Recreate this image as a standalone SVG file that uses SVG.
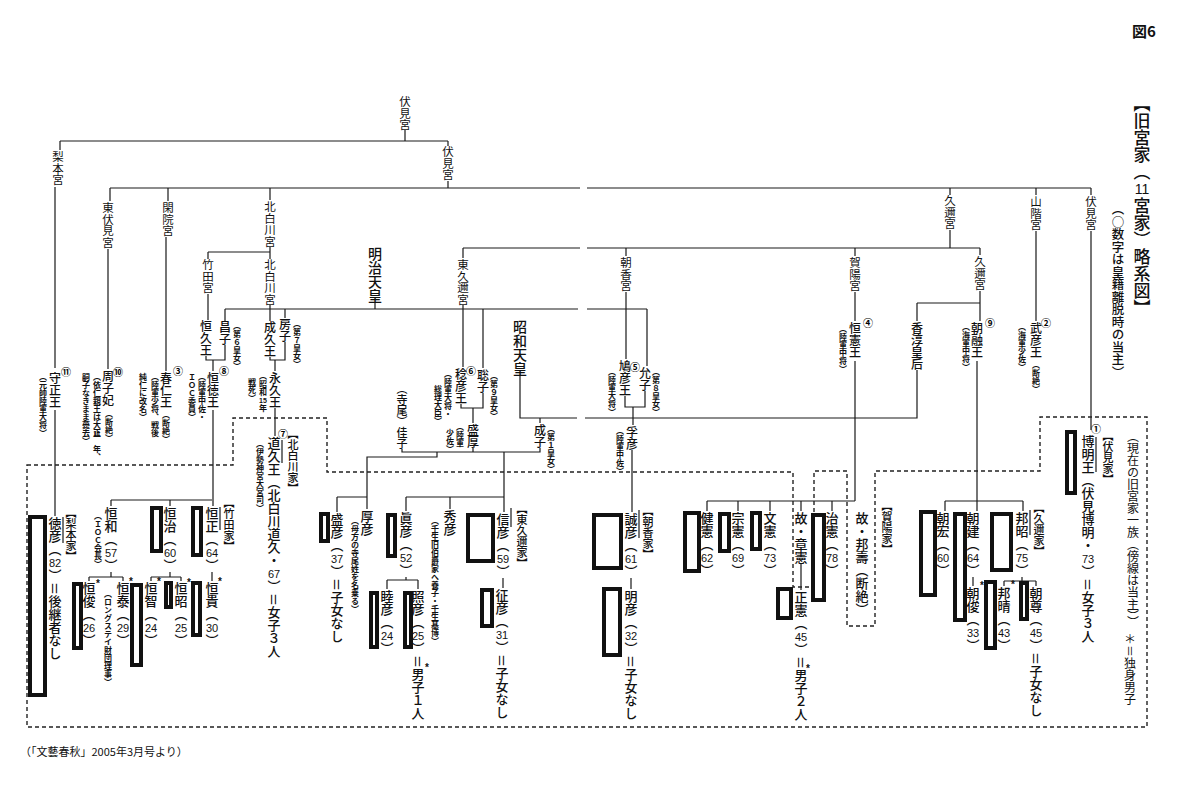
<svg xmlns="http://www.w3.org/2000/svg" width="1200" height="786" viewBox="0 0 1200 786">
<style>
text { font-family: "Noto Sans CJK JP", "Noto Sans CJK SC", sans-serif; fill:#111; }
.v { writing-mode: vertical-rl; }
.n { font-size:13px; font-weight:500; }
.o { font-size:12px; font-weight:500; }
.g { font-size:11.5px; }
.f { font-size:11px; font-weight:500; }
.e { font-size:14px; font-weight:500; }
.s { font-size:8px; font-weight:700; }
.num { font-family:"Liberation Sans", Arial, sans-serif; font-size:11px; text-anchor:middle; dominant-baseline:central; }
.sn { font-family:"Liberation Sans", Arial, sans-serif; font-size:7px; font-weight:700; text-anchor:middle; dominant-baseline:central; }
.c { font-family:"Noto Sans CJK JP", sans-serif; font-size:10px; font-weight:700; fill:#000; text-anchor:middle; dominant-baseline:central; }
.ast { font-family:"Liberation Sans", Arial, sans-serif; font-size:10px; font-weight:700; text-anchor:middle; dominant-baseline:central; }
.ln { fill:none; stroke:#1a1a1a; stroke-width:1.2; }
.bx { fill:none; stroke:#111; stroke-width:4; }
.sd { fill:none; stroke:#1a1a1a; stroke-width:1.2; }
.dash { fill:none; stroke:#222; stroke-width:1.4; stroke-dasharray:4 3; }
</style>
<rect width="1200" height="786" fill="#fff"/>

<g id="connectors">
<path class="ln" d="M405,130 V141 M60,141 H448 M60,141 V150 M55,187 V368 M448,141 V146 M448,181 V188
M110,188 H580 M587,188 H1091 M110,188 V201 M168,188 V201 M270,188 V200 M950,188 V195 M1036,188 V195 M1091,188 V195
M108,249 V369 M166,237 V371 M270,247 V252 M208,252 H270 M208,252 V259 M270,252 V259 M208,294 V320 M270,305 V321
M375,303 V309 M225,309 H578 M587,309 H647 M225,309 V321 M285,309 V318 M463,305 V367 M483,309 V368 M626,292 V359 M647,309 V366
M463,248 H580 M587,248 H980 M463,248 V258 M626,248 V256 M855,248 V256 M980,248 V255 M950,230 V248
M855,292 V321 M980,291 V321 M917,303 H980 M917,303 V321 M1036,231 V321 M1091,231 V430
M206,356 V360 H225 V345 M213,360 V371 M213,410 V506
M270,357 V360 H285 V342 M275,360 V371 M275,408 V436
M55,410 V516
M111,500 H212 M111,500 V506 M170,500 V506
M111,572 V577 M89,577 H123 M89,577 V581 M123,577 V581
M170,572 V577 M151,577 H181 M151,577 V581 M181,577 V581
M212,572 V581
M461,404 V408 H483 V393 M473,408 V423 M473,448 V452
M402,449 V452 H540 V448 M437,452 V457 H367 V497 M337,497 H367 M337,497 V512 M367,497 V509
M504,452 V512 M406,497 H504 M406,497 V511 M450,497 V509
M406,577 V580 M387,580 H418 M387,580 V589 M418,580 V589 M503,578 V588
M520,376 V418 H577 M585,418 H917 V370 M540,418 V423
M625,396 V407 H645 V391 M633,407 V425 M632,450 V512 M631,578 V589
M855,361 V501 M707,501 H855 M707,501 V511 M738,501 V511 M770,501 V511 M801,501 V511 M832,501 V511 M801,564 V590
M977,361 V511 M945,501 H1023 M945,501 V511 M1023,501 V511 M973,577 V586 M1022,577 V581 M1004,581 H1036 M1004,581 V586 M1036,581 V586"/>
<path class="dash" d="M27,465 H233 V418 H327 V472 H793 V587 H814 V471 H847 V626 H875 V471 H1040 V417 H1147 V727 H27 Z"/>
</g>

<g id="header">
<text x="1132" y="37" style="font-size:15px;font-weight:700">図6</text>
<text class="v" x="1142" y="95" style="font-size:17px;font-weight:500">【旧宮家（　宮家）略系図】</text>
<text class="num" x="1142" y="188.5" style="font-size:14px">11</text>
<text class="v" x="1118" y="203" style="font-size:12.5px;font-weight:500">（○数字は皇籍離脱時の当主）</text>
<text class="v" x="1133" y="430" style="font-size:12px">（現在の旧宮家一族（傍線は当主））</text>
<text class="v" x="1130" y="633" style="font-size:12px">＊＝独身男子</text>
<text x="20" y="756" style="font-size:11px">（「文藝春秋」2005年3月号より）</text>
</g>

<g id="houses">
<text class="v g" x="405" y="96">伏見宮</text>
<text class="v g" x="58" y="151">梨本宮</text>
<text class="v g" x="448" y="146">伏見宮</text>
<text class="v g" x="108" y="202">東伏見宮</text>
<text class="v g" x="168" y="202">閑院宮</text>
<text class="v g" x="270" y="201">北白川宮</text>
<text class="v g" x="208" y="259">竹田宮</text>
<text class="v g" x="270" y="259">北白川宮</text>
<text class="v g" x="463" y="259">東久邇宮</text>
<text class="v g" x="626" y="257">朝香宮</text>
<text class="v g" x="855" y="257">賀陽宮</text>
<text class="v g" x="950" y="195">久邇宮</text>
<text class="v g" x="980" y="256">久邇宮</text>
<text class="v g" x="1036" y="196">山階宮</text>
<text class="v g" x="1091" y="196">伏見宮</text>
</g>

<g id="meiji"><text class="v e" x="375" y="247">明治天皇</text></g>
<g id="showa"><text class="v e" x="520" y="320">昭和天皇</text></g>

<g id="morimasa">
<text class="v o" x="55" y="372">守正王</text><text class="c" x="66" y="371">⑪</text>
<text class="v s" x="43" y="373">（元帥陸軍大将）</text>
</g>
<g id="kaneko">
<text class="v o" x="108" y="370">周子妃</text><text class="c" x="118" y="371">⑩</text>
<text class="v s" x="109" y="410">（断絶）</text>
<text class="v s" x="97" y="373">（依仁親王は大正　年、</text><text class="sn" x="97" y="433">11</text>
<text class="v s" x="86" y="373">嗣子なきまま薨去）</text>
</g>
<g id="haruhito">
<text class="v o" x="166" y="372">春仁王</text><text class="c" x="178" y="370">③</text>
<text class="v s" x="166" y="411">（断絶）</text>
<text class="v s" x="155" y="373">（陸軍少将、戦後</text>
<text class="v s" x="143" y="373">純仁に改名）</text>
</g>
<g id="tsunehisa"><text class="v o" x="206" y="320">恒久王</text></g>
<g id="masako"><text class="v o" x="225" y="321">昌子</text><text class="v s" x="237" y="322">（第６皇女）</text></g>
<g id="naruhisa"><text class="v o" x="270" y="321">成久王</text></g>
<g id="fusako"><text class="v o" x="285" y="318">房子</text><text class="v s" x="297" y="320">（第７皇女）</text></g>
<g id="tsuneyoshi">
<text class="v o" x="213" y="372">恒徳王</text><text class="c" x="224" y="370">⑧</text>
<text class="v s" x="202" y="373">（陸軍中佐・</text>
<text class="v s" x="192" y="373">ＩＯＣ委員）</text>
</g>
<g id="nagahisa">
<text class="v o" x="275" y="372">永久王</text>
<text class="v s" x="263" y="372">（昭和　年</text><text class="sn" x="263" y="400">15</text>
<text class="v s" x="252" y="378">戦死）</text>
</g>
<g id="naruhiko">
<text class="v o" x="461" y="368">稔彦王</text><text class="c" x="471" y="370">⑥</text>
<text class="v s" x="448" y="370">（陸軍大将・</text>
<text class="v s" x="438" y="385">総理大臣）</text>
</g>
<g id="toshiko"><text class="v o" x="483" y="369">聡子</text><text class="v s" x="494" y="372">（第９皇女）</text></g>
<g id="morihiro"><text class="v o" x="473" y="424">盛厚</text><text class="v s" x="460" y="423">（陸軍</text><text class="v s" x="450" y="429">少佐）</text></g>
<g id="yoshiko"><text class="v f" x="402" y="383">（寺尾）佳子</text></g>
<g id="shigeko"><text class="v o" x="540" y="424">成子</text><text class="v s" x="551" y="425">（第１皇女）</text></g>
<g id="yasuhiko">
<text class="v o" x="625" y="360">鳩彦王</text><text class="c" x="635" y="366">⑤</text>
<text class="v s" x="612" y="368">（陸軍大将）</text>
</g>
<g id="nobuko"><text class="v o" x="645" y="367">允子</text><text class="v s" x="656" y="368">（第８皇女）</text></g>
<g id="takahiko"><text class="v o" x="632" y="426">孚彦</text><text class="v s" x="620" y="427">（陸軍中佐）</text></g>
<g id="tsunenori"><text class="v o" x="855" y="322">恒憲王</text><text class="c" x="868" y="322">④</text><text class="v s" x="843" y="325">（陸軍中将）</text></g>
<g id="kojun"><text class="v o" x="917" y="322">香淳皇后</text></g>
<g id="asaakira"><text class="v o" x="977" y="322">朝融王</text><text class="c" x="990" y="322">⑨</text><text class="v s" x="966" y="323">（海軍中将）</text></g>
<g id="takehiko"><text class="v o" x="1036" y="322">武彦王</text><text class="c" x="1046" y="322">②</text><text class="v s" x="1036" y="361">（断絶）</text><text class="v s" x="1022" y="323">（海軍少佐）</text></g>

<g id="fam-nashimoto">
<rect class="bx" x="30" y="517" width="15" height="178"/>
<text class="v n" x="55" y="517">徳彦（　）＝後継者なし</text><text class="num" x="55" y="562.5">82</text>
<path class="sd" d="M63,517 V543"/>
<text class="v f" x="71" y="507">【梨本家】</text>
</g>
<g id="fam-takeda">
<text class="v f" x="229" y="497">【竹田家】</text>
</g>
<g id="tsunekazu"><text class="v n" x="111" y="507">恒和（　）</text><text class="num" x="111" y="552.5">57</text><text class="v s" x="98" y="512">（ＩＯＣ会長）</text></g>
<g id="tsuneharu"><rect class="bx" x="152" y="508" width="9" height="43"/><text class="v n" x="170" y="507">恒治（　）</text><text class="num" x="170" y="552.5">60</text></g>
<g id="tsunetada"><rect class="bx" x="193" y="508" width="8" height="47"/><text class="v n" x="212" y="507">恒正（　）</text><text class="num" x="212" y="552.5">64</text><path class="sd" d="M220,507 V530"/></g>
<g id="tsunetoshi"><rect class="bx" x="74" y="584" width="7" height="64"/><text class="v n" x="89" y="582">恒俊（　）</text><text class="num" x="89" y="627.5">26</text><text class="ast" x="98" y="583">*</text></g>
<g id="tsunetaka"><text class="v n" x="123" y="582">恒泰（　）</text><text class="num" x="123" y="627.5">29</text><text class="ast" x="131" y="581">*</text><text class="v s" x="108" y="590">（ロングステイ財団理事）</text></g>
<g id="tsunetomo"><rect class="bx" x="132" y="585" width="9" height="80"/><text class="v n" x="151" y="582">恒智（　）</text><text class="num" x="151" y="627.5">24</text><text class="ast" x="159" y="581">*</text></g>
<g id="tsuneaki"><rect class="bx" x="166" y="583" width="5" height="24"/><text class="v n" x="181" y="582">恒昭（　）</text><text class="num" x="181" y="627.5">25</text><text class="ast" x="189" y="582">*</text></g>
<g id="tsunetaka2"><rect class="bx" x="193" y="583" width="7" height="52"/><text class="v n" x="212" y="582">恒貴（　）</text><text class="num" x="212" y="627.5">30</text><text class="ast" x="220" y="581">*</text></g>

<g id="fam-kitashirakawa">
<text class="v n" x="274" y="437">道久王（北白川道久・　）＝女子３人</text><text class="num" x="274" y="573.5">67</text>
<text class="c" x="283" y="433">⑦</text>
<path class="sd" d="M282,440 V463"/>
<text class="v s" x="260" y="440">（伊勢神宮大宮司）</text>
<text class="v f" x="293" y="428">【北白川家】</text>
</g>

<g id="fam-higashikuni"><text class="v f" x="522" y="503">【東久邇家】</text></g>
<g id="morihiko"><rect class="bx" x="321" y="514" width="7" height="27"/><text class="v n" x="337" y="513">盛彦（　）＝子女なし</text><text class="num" x="337" y="558.5">37</text></g>
<g id="atsuhiko"><text class="v n" x="367" y="510">厚彦</text><text class="v s" x="355" y="517">（母方の寺尾姓を名乗る）</text></g>
<g id="masahiko"><rect class="bx" x="388" y="515" width="7" height="41"/><text class="v n" x="406" y="512">眞彦（　）</text><text class="num" x="406" y="557.5">52</text></g>
<g id="hidehiko"><text class="v n" x="450" y="510">秀彦</text><text class="v s" x="435" y="517">（壬生旧伯爵家へ養子・壬生基博）</text></g>
<g id="nobuhiko"><rect class="bx" x="468" y="515" width="25" height="46"/><text class="v n" x="503" y="513">信彦（　）</text><text class="num" x="503" y="558.5">59</text><path class="sd" d="M511,508 V527"/></g>
<g id="mutsuhiko"><rect class="bx" x="371" y="593" width="6" height="54"/><text class="v n" x="387" y="590">睦彦（　）</text><text class="num" x="387" y="635.5">24</text></g>
<g id="teruhiko"><rect class="bx" x="405" y="593" width="6" height="54"/><text class="v n" x="418" y="590">照彦（　）＝男子１人</text><text class="num" x="418" y="635.5">25</text><text class="ast" x="427" y="667">*</text></g>
<g id="yukihiko"><rect class="bx" x="482" y="590" width="10" height="36"/><text class="v n" x="502" y="589">征彦（　）＝子女なし</text><text class="num" x="502" y="634.5">31</text></g>

<g id="fam-asaka"><text class="v f" x="648" y="505">【朝香家】</text></g>
<g id="masahiko2"><rect class="bx" x="594" y="515" width="27" height="53"/><text class="v n" x="631" y="513">誠彦（　）</text><text class="num" x="631" y="558.5">61</text><path class="sd" d="M639,510 V538"/></g>
<g id="tomohiko"><rect class="bx" x="604" y="589" width="16" height="66"/><text class="v n" x="631" y="590">明彦（　）＝子女なし</text><text class="num" x="631" y="635.5">32</text></g>

<g id="fam-kaya"><text class="v f" x="887" y="500">【賀陽家】</text></g>
<g id="takenori"><rect class="bx" x="685" y="513" width="14" height="58"/><text class="v n" x="707" y="512">健憲（　）</text><text class="num" x="707" y="557.5">62</text></g>
<g id="munenori"><rect class="bx" x="720" y="514" width="9" height="37"/><text class="v n" x="738" y="512">宗憲（　）</text><text class="num" x="738" y="557.5">69</text></g>
<g id="fuminori"><rect class="bx" x="752" y="513" width="8" height="36"/><text class="v n" x="770" y="512">文憲（　）</text><text class="num" x="770" y="557.5">73</text></g>
<g id="akinori"><text class="v n" x="801" y="512">故・章憲</text></g>
<g id="masanori"><rect class="bx" x="778" y="589" width="13" height="29"/><text class="v n" x="801" y="591">正憲（　）＝男子２人</text><text class="num" x="801" y="636.5">45</text><text class="ast" x="808" y="668">*</text></g>
<g id="harunori"><rect class="bx" x="813" y="515" width="11" height="85"/><text class="v n" x="832" y="512">治憲（　）</text><text class="num" x="832" y="557.5">78</text></g>
<g id="kuninaga"><text class="v n" x="862" y="512">故・邦壽（断絶）</text></g>

<g id="fam-kuni"><text class="v f" x="1039" y="502">【久邇家】</text></g>
<g id="asahiro"><rect class="bx" x="921" y="512" width="14" height="83"/><text class="v n" x="943" y="512">朝宏（　）</text><text class="num" x="943" y="557.5">60</text></g>
<g id="asatake"><rect class="bx" x="955" y="514" width="10" height="106"/><text class="v n" x="973" y="512">朝建（　）</text><text class="num" x="973" y="557.5">64</text></g>
<g id="kuniaki"><rect class="bx" x="992" y="514" width="19" height="56"/><text class="v n" x="1022" y="512">邦昭（　）</text><text class="num" x="1022" y="557.5">75</text><path class="sd" d="M1030,510 V535"/></g>
<g id="asatoshi"><text class="v n" x="973" y="587">朝俊（　）</text><text class="num" x="973" y="632.5">33</text><text class="ast" x="982" y="585">*</text></g>
<g id="kuniharu"><rect class="bx" x="986" y="582" width="9" height="66"/><text class="v n" x="1004" y="587">邦晴（　）</text><text class="num" x="1004" y="632.5">43</text><text class="ast" x="1013" y="584">*</text></g>
<g id="asataka"><rect class="bx" x="1021" y="583" width="6" height="36"/><text class="v n" x="1036" y="587">朝尊（　）＝子女なし</text><text class="num" x="1036" y="632.5">45</text></g>

<g id="fam-fushimi">
<rect class="bx" x="1067" y="432" width="8" height="61"/>
<text class="v n" x="1088" y="435">博明王（伏見博明・　）＝女子３人</text><text class="num" x="1088" y="558.5">73</text>
<text class="c" x="1096" y="428">①</text>
<path class="sd" d="M1096,437 V472"/>
<text class="v f" x="1108" y="430">【伏見家】</text>
</g>
</svg>
